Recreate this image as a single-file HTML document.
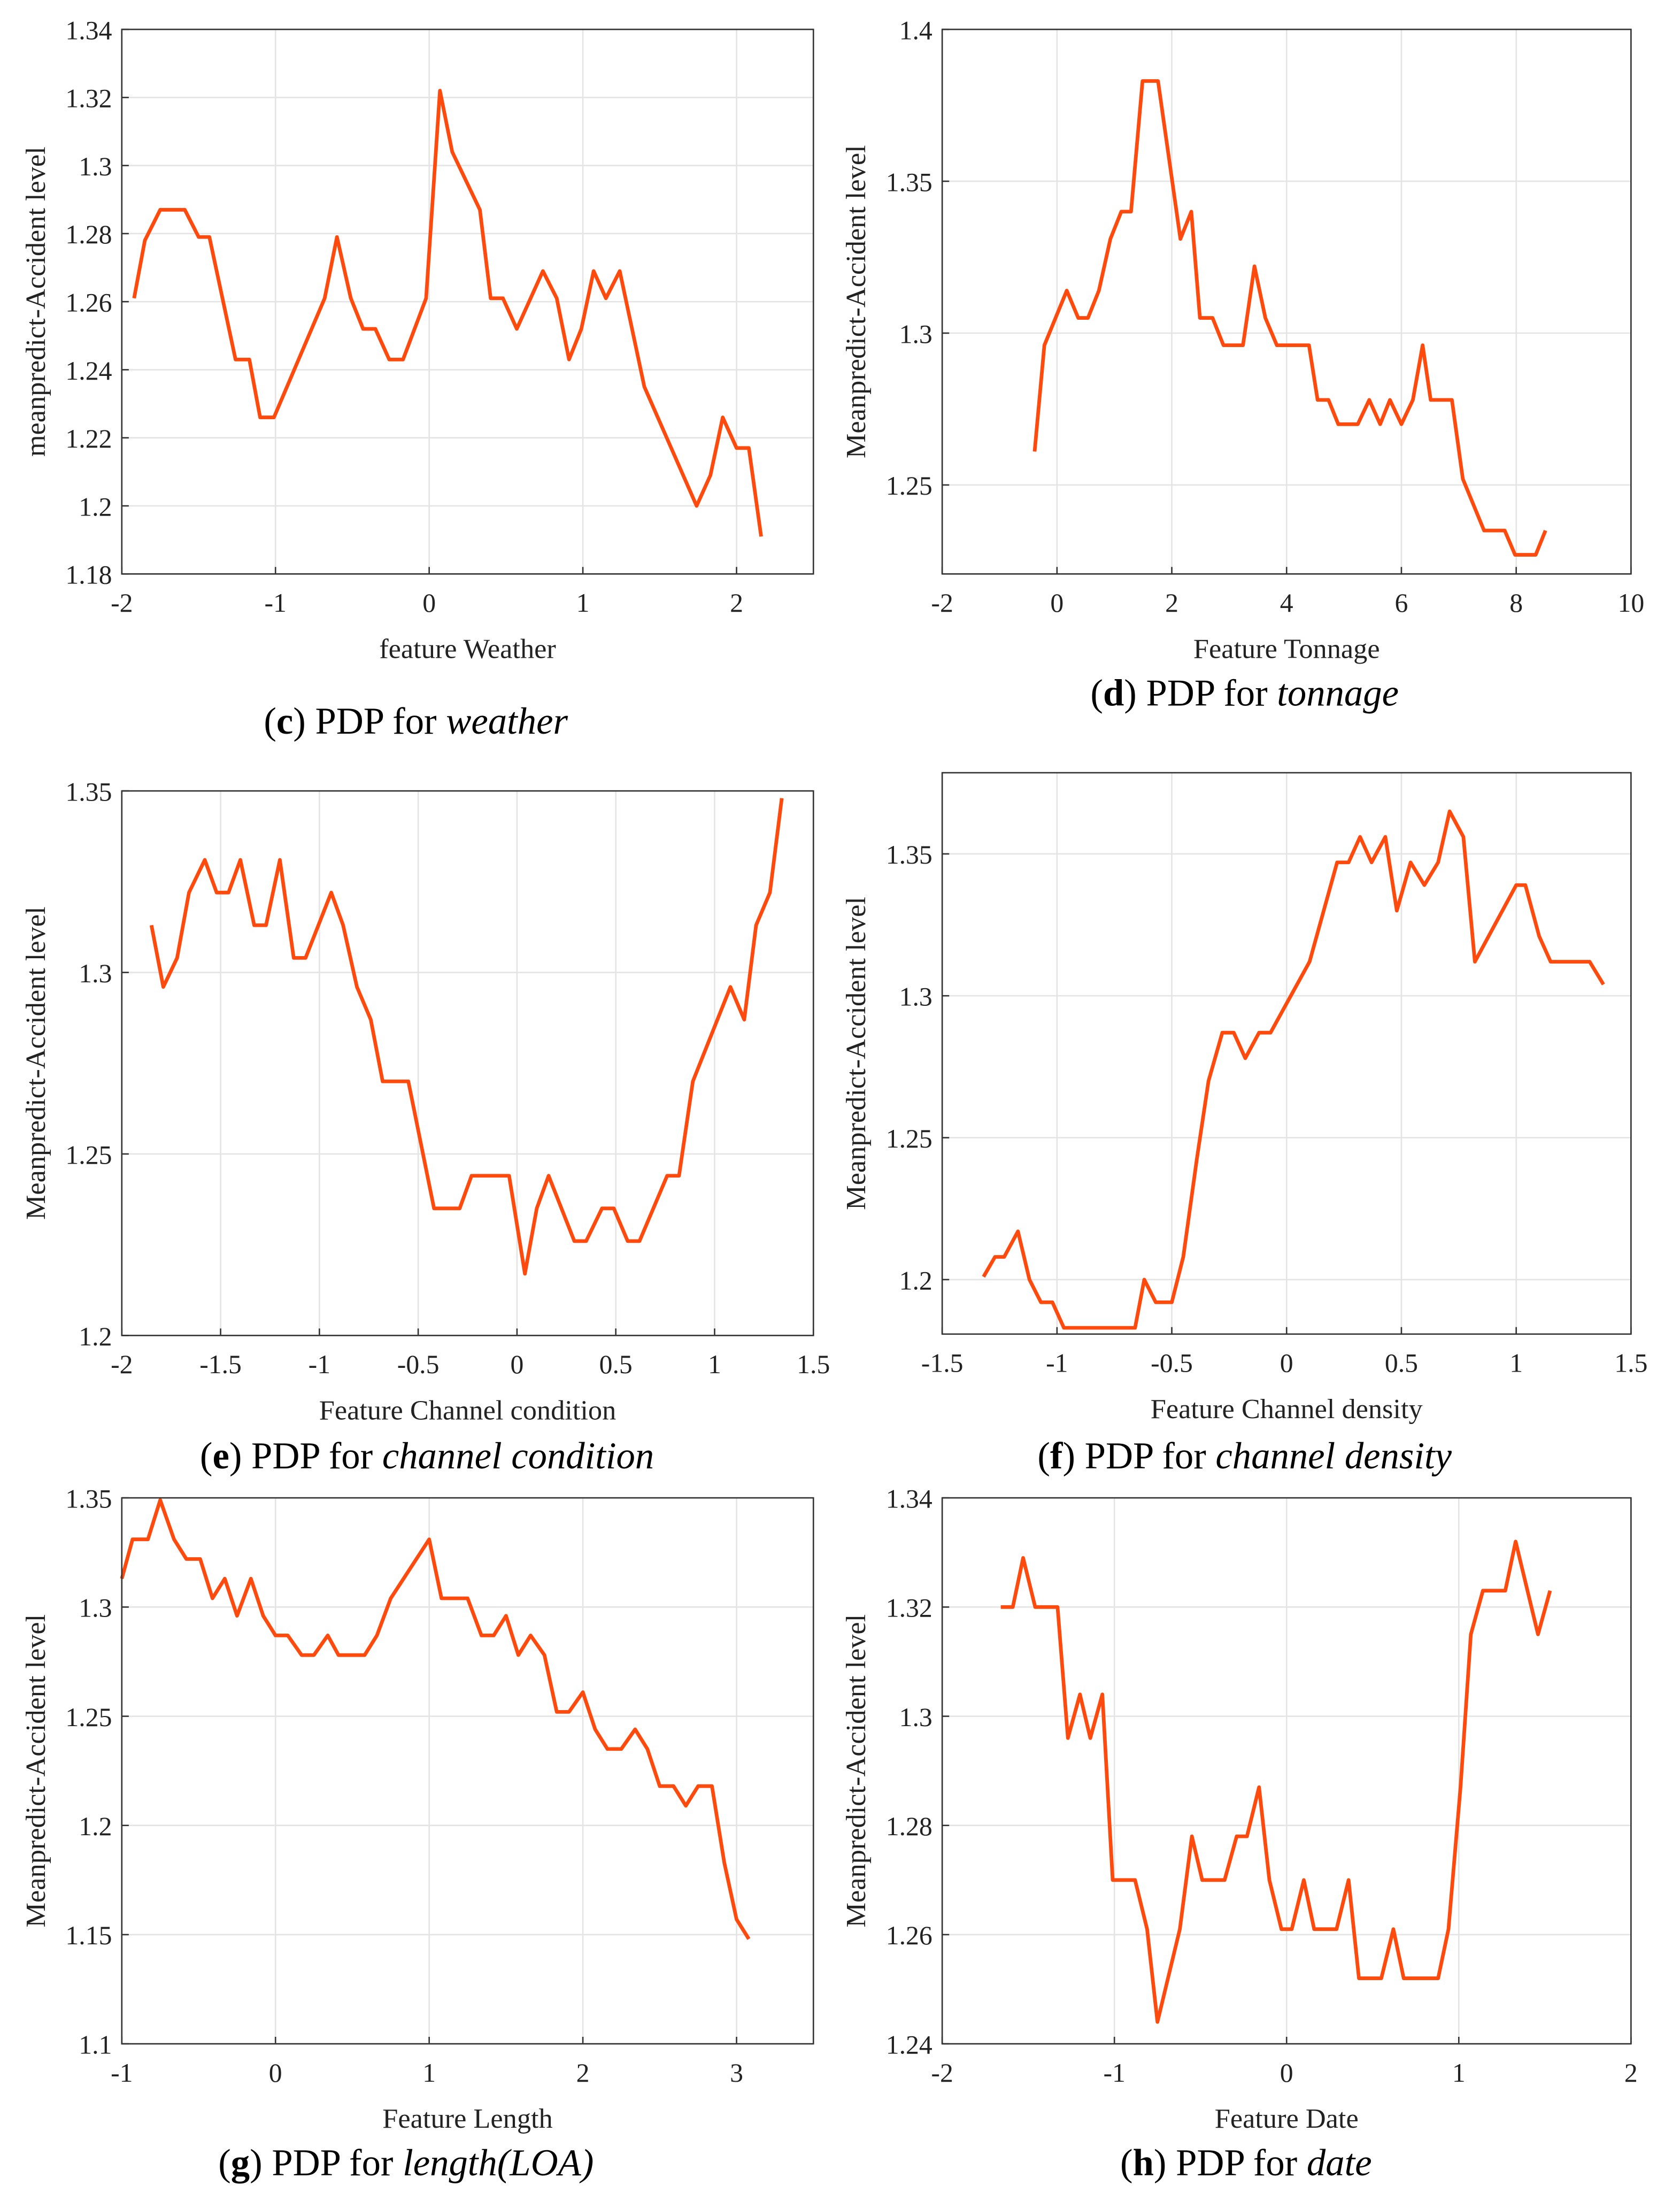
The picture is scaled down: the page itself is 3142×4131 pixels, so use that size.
<!DOCTYPE html>
<html><head><meta charset="utf-8">
<style>
html,body{margin:0;padding:0;background:#fff;}
svg{display:block;font-family:"Liberation Serif",serif;}
svg text, svg tspan{font-family:"Liberation Serif",serif;}
</style></head>
<body>
<svg id="fig" width="3142" height="4131" viewBox="0 0 1200 1578" preserveAspectRatio="none" xmlns="http://www.w3.org/2000/svg"></svg>
<script>
// ---- Panel (c) weather ----
const weatherX=[-1.92,-1.85,-1.75,-1.59,-1.5,-1.43,-1.26,-1.17,-1.1,-1.01,-0.68,-0.6,-0.51,-0.43,-0.35,-0.26,-0.17,-0.02,0.07,0.15,0.33,0.4,0.48,0.57,0.74,0.83,0.91,0.99,1.07,1.15,1.24,1.4,1.74,1.83,1.91,2.0,2.08,2.16];
const weatherY=[1.261,1.278,1.287,1.287,1.279,1.279,1.243,1.243,1.226,1.226,1.261,1.279,1.261,1.252,1.252,1.243,1.243,1.261,1.322,1.304,1.287,1.261,1.261,1.252,1.269,1.261,1.243,1.252,1.269,1.261,1.269,1.235,1.2,1.209,1.226,1.217,1.217,1.191];
const weatherXTicks=[-2,-1,0,1,2];
const weatherYTicks=[1.18,1.2,1.22,1.24,1.26,1.28,1.3,1.32,1.34];
// ---- Panel (d) tonnage ----
const tonnageX=[-0.39,-0.22,0.17,0.37,0.54,0.73,0.93,1.12,1.29,1.49,1.76,2.15,2.34,2.49,2.71,2.9,3.24,3.44,3.63,3.83,4.39,4.54,4.73,4.9,5.24,5.44,5.63,5.8,6.0,6.2,6.37,6.51,6.88,7.07,7.44,7.8,7.98,8.34,8.51];
const tonnageY=[1.261,1.296,1.314,1.305,1.305,1.314,1.331,1.34,1.34,1.383,1.383,1.331,1.34,1.305,1.305,1.296,1.296,1.322,1.305,1.296,1.296,1.278,1.278,1.27,1.27,1.278,1.27,1.278,1.27,1.278,1.296,1.278,1.278,1.252,1.235,1.235,1.227,1.227,1.235];
const tonnageXTicks=[-2,0,2,4,6,8,10];
const tonnageYTicks=[1.25,1.3,1.35,1.4];
// ---- Panel (e) channel condition ----
const condX=[-1.85,-1.79,-1.72,-1.66,-1.58,-1.52,-1.46,-1.4,-1.33,-1.27,-1.2,-1.13,-1.07,-0.94,-0.88,-0.81,-0.74,-0.68,-0.55,-0.42,-0.29,-0.23,-0.04,0.04,0.1,0.16,0.29,0.35,0.43,0.49,0.56,0.62,0.76,0.82,0.89,1.08,1.15,1.21,1.28,1.34];
const condY=[1.313,1.296,1.304,1.322,1.331,1.322,1.322,1.331,1.313,1.313,1.331,1.304,1.304,1.322,1.313,1.296,1.287,1.27,1.27,1.235,1.235,1.244,1.244,1.217,1.235,1.244,1.226,1.226,1.235,1.235,1.226,1.226,1.244,1.244,1.27,1.296,1.287,1.313,1.322,1.348];
const condXTicks=[-2,-1.5,-1,-0.5,0,0.5,1,1.5];
const condYTicks=[1.2,1.25,1.3,1.35];
// ---- Panel (f) channel density ----
const densX=[-1.32,-1.27,-1.23,-1.17,-1.12,-1.07,-1.02,-0.97,-0.66,-0.62,-0.57,-0.5,-0.45,-0.39,-0.34,-0.28,-0.23,-0.18,-0.12,-0.07,0.1,0.22,0.27,0.32,0.37,0.43,0.48,0.54,0.6,0.66,0.71,0.77,0.82,1.0,1.04,1.1,1.15,1.32,1.38];
const densY=[1.201,1.208,1.208,1.217,1.2,1.192,1.192,1.183,1.183,1.2,1.192,1.192,1.208,1.243,1.27,1.287,1.287,1.278,1.287,1.287,1.312,1.347,1.347,1.356,1.347,1.356,1.33,1.347,1.339,1.347,1.365,1.356,1.312,1.339,1.339,1.321,1.312,1.312,1.304];
const densXTicks=[-1.5,-1,-0.5,0,0.5,1,1.5];
const densYTicks=[1.2,1.25,1.3,1.35];
// ---- Panel (g) length ----
const lenX=[-1.0,-0.93,-0.83,-0.75,-0.66,-0.58,-0.49,-0.41,-0.33,-0.25,-0.16,-0.08,0.0,0.08,0.17,0.25,0.34,0.41,0.58,0.66,0.75,1.0,1.08,1.25,1.34,1.42,1.5,1.58,1.66,1.75,1.83,1.91,2.0,2.08,2.16,2.25,2.34,2.42,2.5,2.59,2.67,2.75,2.84,2.92,3.0,3.08];
const lenY=[1.313,1.331,1.331,1.349,1.331,1.322,1.322,1.304,1.313,1.296,1.313,1.296,1.287,1.287,1.278,1.278,1.287,1.278,1.278,1.287,1.304,1.331,1.304,1.304,1.287,1.287,1.296,1.278,1.287,1.278,1.252,1.252,1.261,1.244,1.235,1.235,1.244,1.235,1.218,1.218,1.209,1.218,1.218,1.183,1.157,1.148];
const lenXTicks=[-1,0,1,2,3];
const lenYTicks=[1.1,1.15,1.2,1.25,1.3,1.35];
// ---- Panel (h) date ----
const dateX=[-1.66,-1.59,-1.53,-1.46,-1.33,-1.27,-1.2,-1.14,-1.07,-1.01,-0.88,-0.81,-0.75,-0.62,-0.55,-0.49,-0.36,-0.29,-0.23,-0.16,-0.1,-0.03,0.03,0.1,0.16,0.29,0.36,0.42,0.55,0.62,0.68,0.88,0.94,1.01,1.07,1.14,1.27,1.33,1.46,1.53];
const dateY=[1.32,1.32,1.329,1.32,1.32,1.296,1.304,1.296,1.304,1.27,1.27,1.261,1.244,1.261,1.278,1.27,1.27,1.278,1.278,1.287,1.27,1.261,1.261,1.27,1.261,1.261,1.27,1.252,1.252,1.261,1.252,1.252,1.261,1.287,1.315,1.323,1.323,1.332,1.315,1.323];
const dateXTicks=[-2,-1,0,1,2];
const dateYTicks=[1.24,1.26,1.28,1.3,1.32,1.34];

const NS="http://www.w3.org/2000/svg";
const FONT="Liberation Serif, serif";
const svg=document.getElementById('fig');
function mk(tag,attrs,parent){const e=document.createElementNS(NS,tag);for(const k in attrs)e.setAttribute(k,attrs[k]);(parent||svg).appendChild(e);return e;}

function panel(p){
  const g=mk('g',{});
  
  
  const sx=v=>p.x0+(v-p.xmin)/(p.xmax-p.xmin)*(p.x1-p.x0);
  const sy=v=>p.y1-(v-p.ymin)/(p.ymax-p.ymin)*(p.y1-p.y0);
  mk('rect',{x:p.x0,y:p.y0,width:p.x1-p.x0,height:p.y1-p.y0,fill:'#fff'},g);
  p.xt.forEach(t=>{
    const X=sx(t);
    const l=mk('line',{x1:X,x2:X,y1:p.y0,y2:p.y1,stroke:'#e4e4e4','stroke-width':1},g);
    
    
    mk('line',{x1:X,x2:X,y1:p.y1,y2:p.y1-5,stroke:'#333','stroke-width':1},g);
    const tx=mk('text',{x:X,y:p.y1+27,'text-anchor':'middle','font-size':19,fill:'#222','font-family':FONT},g);
    tx.textContent=String(t);
    
    
  });
  p.yt.forEach(t=>{
    const Y=sy(t);
    const l=mk('line',{x1:p.x0,x2:p.x1,y1:Y,y2:Y,stroke:'#e4e4e4','stroke-width':1},g);
    
    
    mk('line',{x1:p.x0,x2:p.x0+5,y1:Y,y2:Y,stroke:'#333','stroke-width':1},g);
    const tx=mk('text',{x:p.x0-7,y:Y+7,'text-anchor':'end','font-size':19,fill:'#222','font-family':FONT},g);
    tx.textContent=String(t);
    
    
  });
  const pts=p.xs.map((v,i)=>sx(v).toFixed(2)+','+sy(p.ys[i]).toFixed(2)).join(' ');
  const line=mk('polyline',{points:pts,fill:'none',stroke:'#ff4a0d','stroke-width':2.6,'stroke-linejoin':'round'},g);
  
  
  mk('rect',{x:p.x0,y:p.y0,width:p.x1-p.x0,height:p.y1-p.y0,fill:'none',stroke:'#333','stroke-width':1},g);
  const xl=mk('text',{x:(p.x0+p.x1)/2,y:p.y1+60,'text-anchor':'middle','font-size':20,fill:'#222','font-family':FONT},g);
  xl.textContent=p.xlabel;
  
  
  const yc=(p.y0+p.y1)/2, yx=p.x0-55;
  const yl=mk('text',{x:yx,y:yc,'text-anchor':'middle','font-size':20,fill:'#222','font-family':FONT,transform:'rotate(-90 '+yx+' '+yc+')'},g);
  yl.textContent=p.ylabel;
  
  
  const cap=mk('text',{x:p.cx,y:p.cy,'text-anchor':'middle','font-size':27,fill:'#000','font-family':FONT},g);
  
  
  const parts=[['(',null],[p.id,'bold'],[') PDP for ',null],[p.cap,'italic']];
  parts.forEach(pt=>{
    const ts=mk('tspan',{'font-family':FONT},cap);
    if(pt[1]==='bold')ts.setAttribute('font-weight','bold');
    if(pt[1]==='italic')ts.setAttribute('font-style','italic');
    ts.textContent=pt[0];
  });
}

panel({id:'c',x0:87,x1:581,y0:21,y1:410,xmin:-2,xmax:2.5,ymin:1.18,ymax:1.34,xs:weatherX,ys:weatherY,xt:weatherXTicks,yt:weatherYTicks,xlabel:'feature Weather',ylabel:'meanpredict-Accident level',cap:'weather',cx:297,cy:524});
panel({id:'d',x0:673,x1:1165,y0:21,y1:410,xmin:-2,xmax:10,ymin:1.2207,ymax:1.4,xs:tonnageX,ys:tonnageY,xt:tonnageXTicks,yt:tonnageYTicks,xlabel:'Feature Tonnage',ylabel:'Meanpredict-Accident level',cap:'tonnage',cx:889,cy:504});
panel({id:'e',x0:87,x1:581,y0:565,y1:954,xmin:-2,xmax:1.5,ymin:1.2,ymax:1.35,xs:condX,ys:condY,xt:condXTicks,yt:condYTicks,xlabel:'Feature Channel condition',ylabel:'Meanpredict-Accident level',cap:'channel condition',cx:305,cy:1049});
panel({id:'f',x0:673,x1:1165,y0:552,y1:953,xmin:-1.5,xmax:1.5,ymin:1.1808,ymax:1.3786,xs:densX,ys:densY,xt:densXTicks,yt:densYTicks,xlabel:'Feature Channel density',ylabel:'Meanpredict-Accident level',cap:'channel density',cx:889,cy:1049});
panel({id:'g',x0:87,x1:581,y0:1070,y1:1460,xmin:-1,xmax:3.5,ymin:1.1,ymax:1.35,xs:lenX,ys:lenY,xt:lenXTicks,yt:lenYTicks,xlabel:'Feature Length',ylabel:'Meanpredict-Accident level',cap:'length(LOA)',cx:290,cy:1554});
panel({id:'h',x0:673,x1:1165,y0:1070,y1:1460,xmin:-2,xmax:2,ymin:1.24,ymax:1.34,xs:dateX,ys:dateY,xt:dateXTicks,yt:dateYTicks,xlabel:'Feature Date',ylabel:'Meanpredict-Accident level',cap:'date',cx:890,cy:1554});
</script>
</body></html>
